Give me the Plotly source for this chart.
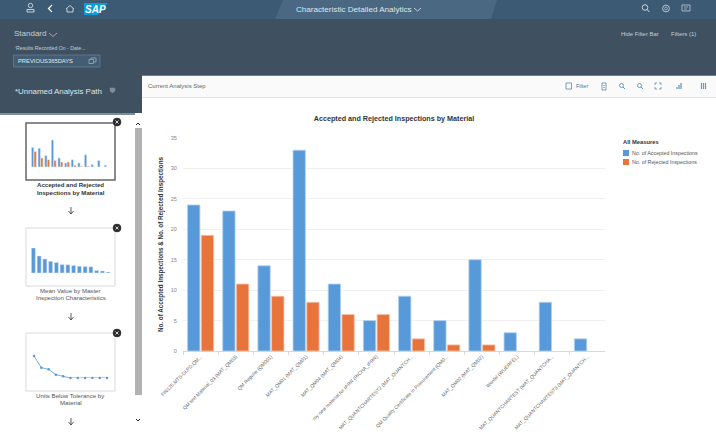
import plotly.graph_objects as go

W, H = 716, 435

materials = [
    "FIN125,MTS-DI,PD,QM...",
    "QM test Material_03 (MAT_QM03)",
    "QM Regular (QM001)",
    "MAT_QM01 (MAT_QM01)",
    "MAT_QM04 (MAT_QM04)",
    "my new material for IPRR (RICHA_IPRR)",
    "MAT_QUANTCHARTEST2 (MAT_QUANTCH...",
    "QM Quality Certificate in Procurement (QM0...",
    "MAT_QM02 (MAT_QM02)",
    "Wonfel (WUERFEL)",
    "MAT_QUANTCHARTEST (MAT_QUANTCHA...",
    "MAT_QUANTCHARTEST3 (MAT_QUANTCH...",
]
accepted = [24, 23, 14, 33, 11, 5, 9, 5, 15, 3, 8, 2]
rejected = [19, 11, 9, 8, 6, 6, 2, 1, 1, None, None, None]
y_ticks = [0, 5, 10, 15, 20, 25, 30, 35]

# little preview charts in the left panel
mean_values = [73, 50, 41, 34, 31, 25, 24, 22, 20, 19, 18, 7, 6, 3]
below_tolerance = [66, 31, 26, 10, 5, 0, 0, 0, 0, 0, 0]

BLUE = "#5899da"
ORANGE = "#e8743b"
FONT = "Liberation Sans, Arial, sans-serif"


def fx(px):
    return px / W


def fy(px):
    return 1 - px / H


shapes = []
annotations = []


def rect(x0, y0, x1, y1, fill, line=None, lw=1):
    shapes.append(dict(type="rect", xref="paper", yref="paper", layer="below",
                       x0=fx(x0), x1=fx(x1), y0=fy(y0), y1=fy(y1), fillcolor=fill,
                       line=dict(color=line or fill, width=lw if line else 0)))


def path(points, color, lw=1, fill=None, close=False):
    d = "M" + " L".join(f"{fx(x):.5f},{fy(y):.5f}" for x, y in points)
    if close:
        d += " Z"
    shapes.append(dict(type="path", xref="paper", yref="paper", path=d, layer="above",
                       fillcolor=fill or "rgba(0,0,0,0)", line=dict(color=color, width=lw)))


def circle(cx, cy, r, color, lw=1, fill=None):
    shapes.append(dict(type="circle", xref="paper", yref="paper", layer="above",
                       x0=fx(cx - r), x1=fx(cx + r), y0=fy(cy - r), y1=fy(cy + r),
                       fillcolor=fill or "rgba(0,0,0,0)", line=dict(color=color, width=lw)))


def label(x, y, text, size=6, color="#333333", anchor="left", bold=False, italic=False):
    if bold:
        text = f"<b>{text}</b>"
    if italic:
        text = f"<i>{text}</i>"
    annotations.append(dict(xref="paper", yref="paper", x=fx(x), y=fy(y), text=text,
                            showarrow=False, xanchor=anchor, yanchor="middle",
                            borderpad=0, borderwidth=0,
                            font=dict(family=FONT, size=size, color=color)))


# shell background
rect(0, 0, W, 19, "#3d5a75")
path([(275, 19), (283, 0), (497, 0), (491, 19)], "#4a6882", 0, fill="#4a6882", close=True)
rect(0, 19, W, 76, "#3f5161")
rect(0, 76, 142, 113, "#3f5161")
rect(0, 113, 135, 115, "#7f8e9b")
rect(0, 115, 142, H, "#ffffff")
rect(142, 76, W, 97, "#fafafa")
rect(142, 97, W, 98, "#e6e6e6")
rect(142, 75, W, 76, "#6f7f8c")

# scroll bar
rect(135, 128, 142, 395, "#b2b2b2")
path([(136, 125), (138, 123), (140, 125)], "#222222", 1)
path([(136, 419), (138, 421), (140, 419)], "#222222", 1)

# preview boxes
rect(26, 123, 115, 180, "#ffffff", "#666666", 1.5)
rect(26, 228, 115, 286, "#ffffff", "#d9d9d9", 1)
rect(26, 333, 115, 391, "#ffffff", "#d9d9d9", 1)
for cy in [122, 228, 333]:
    circle(117, cy, 4, "#2b2b2b", 0.5, fill="#2b2b2b")
    path([(115.5, cy - 1.5), (118.5, cy + 1.5)], "#ffffff", 0.8)
    path([(118.5, cy - 1.5), (115.5, cy + 1.5)], "#ffffff", 0.8)
for cy in [211, 317, 422]:
    path([(71, cy - 4), (71, cy + 3)], "#333333", 0.8)
    path([(68.5, cy), (71, cy + 3), (73.5, cy)], "#333333", 0.8)

label(70.5, 184.5, "Accepted and Rejected", 6.1, "#333333", "center", bold=True)
label(70.5, 192, "Inspections by Material", 6.1, "#333333", "center", bold=True)
label(70.5, 290, "Mean Value by Master", 6.1, "#555555", "center")
label(70.5, 297, "Inspection Characteristics", 6.1, "#555555", "center")
label(70.5, 395, "Units Below Tolerance by", 6.1, "#555555", "center")
label(70.5, 402, "Material", 6.1, "#555555", "center")

# top bar icons
circle(30.5, 5.5, 2.2, "#e6ecf1", 0.8)
path([(27, 12), (27, 9.5), (34, 9.5), (34, 12), (27, 12)], "#e6ecf1", 0.8)
path([(52, 5), (48.5, 8.5), (52, 12)], "#ffffff", 1.2)
path([(66, 9), (70, 5.5), (74, 9)], "#e6ecf1", 0.8)
path([(67, 8.5), (67, 12), (73, 12), (73, 8.5)], "#e6ecf1", 0.8)
path([(84, 3), (108, 3), (98, 15), (84, 15)], "#0a9bdc", 0, fill="#0a9bdc", close=True)
label(84.5, 9, "SAP", 10, "#ffffff", bold=True, italic=True)
label(295.5, 9, "Characteristic Detailed Analytics", 8.1, "#dfe6ec")
path([(414, 8), (417.5, 11), (421, 8)], "#dfe6ec", 0.8)
circle(645, 7.5, 2.8, "#e6ecf1", 0.8)
path([(647, 9.5), (649.5, 12)], "#e6ecf1", 0.9)
circle(666, 8.5, 3.4, "#d3dce4", 0.8)
circle(666, 8.5, 1.4, "#d3dce4", 0.6)
path([(682, 5), (690, 5), (690, 11), (682, 11), (682, 5)], "#d3dce4", 0.7)
path([(684, 7), (688, 7)], "#d3dce4", 0.6)
path([(684, 9), (687, 9)], "#d3dce4", 0.6)

# filter bar
label(14, 34, "Standard", 8, "#c4ced6")
path([(49, 33), (53, 36.5), (57, 33)], "#c4ced6", 0.7)
label(14, 48.5, "<span style='color:#e0505a'>*</span>Results Recorded On - Date...", 5.2, "#c4ced6")
rect(13.5, 55, 100, 67, "#435d74", "#6a8195", 0.7)
label(18, 60.7, "PREVIOUS365DAYS", 5.8, "#e3e9ee")
path([(91, 59), (91, 58), (96, 58), (96, 62), (94, 62)], "#b9c6d0", 0.6)
path([(89, 59.5), (93.5, 59.5), (93.5, 63.5), (89, 63.5), (89, 59.5)], "#b9c6d0", 0.6)
label(621, 34, "Hide Filter Bar", 5.9, "#c4ced6")
label(671, 34, "Filters (1)", 6, "#c4ced6")
label(15, 91, "*Unnamed Analysis Path", 7.9, "#dfe5ea")
path([(110, 88), (115, 88), (115, 91), (112.5, 93), (110, 91)], "#7e8d99", 0.5, fill="#7e8d99", close=True)

# toolbar
label(148, 86, "Current Analysis Step", 6, "#666666")
TB = "#3f7aa8"
path([(566, 83), (571.5, 83), (571.5, 89), (566, 89), (566, 83)], TB, 0.7)
label(576, 86, "Filter", 5.5, TB)
path([(602, 83), (606, 83), (606, 90), (602, 90), (602, 83)], TB, 0.7)
path([(603, 85.5), (605, 85.5)], TB, 0.5)
path([(603, 87.5), (605, 87.5)], TB, 0.5)
for x in [622, 640]:
    circle(x - 0.5, 85.5, 2, TB, 0.7)
    path([(x + 1, 87), (x + 3, 89)], TB, 0.8)
for p in [[(655, 85), (655, 83), (657, 83)], [(659, 83), (661, 83), (661, 85)],
          [(655, 87), (655, 89), (657, 89)], [(659, 89), (661, 89), (661, 87)]]:
    path(p, TB, 0.7)
path([(677, 89), (677, 87)], TB, 1)
path([(679, 89), (679, 85)], TB, 1)
path([(681, 89), (681, 83)], TB, 1)
for x in [701.5, 703.5, 705.5]:
    path([(x, 83), (x, 89)], TB, 1.2)
for y in [84, 86, 88]:
    path([(701, y), (706.5, y)], "#fafafa", 0.5)

# legend, drawn by hand since plotly's rows are too tall at this size
label(623, 142, "All Measures", 5.8, "#333333", bold=True)
rect(623, 150, 629, 156, BLUE)
label(632, 153, "No. of Accepted Inspections", 5.3, "#555555")
rect(623, 159, 629, 165, ORANGE)
label(632, 162, "No. of Rejected Inspections", 5.3, "#555555")

fig = go.Figure()

# main chart
fig.add_bar(x=materials, y=accepted, name="No. of Accepted Inspections", marker_color=BLUE,
            marker_line=dict(color="#b4d2ee", width=0.8))
fig.add_bar(x=materials, y=rejected, name="No. of Rejected Inspections", marker_color=ORANGE,
            marker_line=dict(color="#f5c2a8", width=0.8))

# preview 1
fig.add_bar(x=materials, y=accepted, marker_color=BLUE, xaxis="x2", yaxis="y2")
fig.add_bar(x=materials, y=rejected, marker_color=ORANGE, xaxis="x2", yaxis="y2")
# preview 2
fig.add_bar(x=list(range(len(mean_values))), y=mean_values, marker_color=BLUE,
            xaxis="x3", yaxis="y3")
# preview 3
fig.add_scatter(x=list(range(len(below_tolerance))), y=below_tolerance, mode="lines+markers",
                line=dict(color=BLUE, width=0.8), marker=dict(color=BLUE, size=2.5),
                cliponaxis=False, xaxis="x4", yaxis="y4")

hidden = dict(visible=False, fixedrange=True)

fig.update_layout(
    width=W, height=H,
    margin=dict(l=0, r=0, t=0, b=0),
    paper_bgcolor="#ffffff",
    plot_bgcolor="rgba(0,0,0,0)",
    showlegend=False,
    font=dict(family=FONT, size=6, color="#666666"),
    barmode="group",
    bargap=0.22,
    bargroupgap=0.1,
    title=dict(text="<b>Accepted and Rejected Inspections by Material</b>",
               x=fx(394), y=fy(118), xanchor="center", yanchor="middle",
               font=dict(family=FONT, size=7.2, color="#333333")),
    xaxis=dict(domain=[fx(183), fx(605)], tickangle=-45, tickson="boundaries", ticks="outside",
               ticklen=2.5, tickcolor="#d8d8d8", linecolor="#d8d8d8", showline=True,
               showgrid=False, tickfont=dict(size=4.9, color="#666666"), automargin=False),
    yaxis=dict(domain=[fy(351), fy(138)], range=[0, 35], tickvals=y_ticks, ticks="outside",
               ticklen=4, tickcolor="rgba(0,0,0,0)",
               gridcolor="#f0f0f0", gridwidth=0.8, zeroline=False,
               tickfont=dict(size=5.6, color="#888888"), automargin=False,
               title=dict(text="<b>No. of Accepted Inspections & No. of Rejected Inspections</b>",
                          font=dict(size=6.3, color="#333333"), standoff=6)),
    xaxis2=dict(domain=[fx(30.6), fx(110)], anchor="y2", **hidden),
    yaxis2=dict(domain=[fy(167), fy(140)], range=[0, 33], anchor="x2", **hidden),
    xaxis3=dict(domain=[fx(30.5), fx(111)], anchor="y3", **hidden),
    yaxis3=dict(domain=[fy(273), fy(248)], range=[0, 73], anchor="x3", **hidden),
    xaxis4=dict(domain=[fx(34), fx(107)], range=[0, 10], anchor="y4", **hidden),
    yaxis4=dict(domain=[fy(378), fy(356)], range=[0, 66], anchor="x4", **hidden),
    shapes=shapes,
    annotations=annotations,
)

fig.write_html("out.html", config=dict(displayModeBar=False),
               post_script="document.body.style.margin='0';document.body.style.overflow='hidden';")
